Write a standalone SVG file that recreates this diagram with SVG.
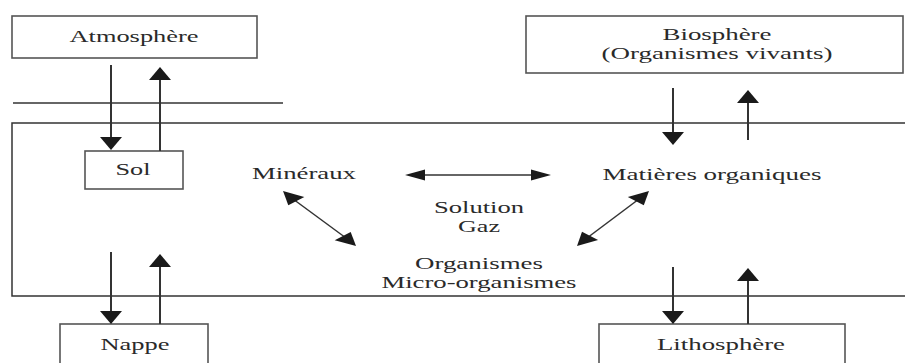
<svg xmlns="http://www.w3.org/2000/svg" width="905" height="363" viewBox="0 0 905 363">
<style>
.box{fill:#fff;stroke:#555;stroke-width:1.6}
.ln{fill:none;stroke:#333;stroke-width:2}
.thin{fill:none;stroke:#333;stroke-width:1.5}
.hd{fill:#1a1a1a;stroke:none}
text{font-family:"Liberation Serif","Times New Roman",serif;font-size:17px;fill:#2a2a2a;text-anchor:middle}
</style>
<rect width="905" height="363" fill="#fff"/>
<g id="frame">
<path class="thin" d="M905,123 H12 V296 H905"/>
<path class="thin" d="M13,103 H283"/>
</g>
<g id="atmosphere"><rect class="box" x="12" y="16" width="245" height="42"/><text x="134" y="42" textLength="129" lengthAdjust="spacingAndGlyphs">Atmosphère</text></g>
<g id="biosphere"><rect class="box" x="526" y="16" width="377" height="57"/><text x="717" y="40" textLength="109" lengthAdjust="spacingAndGlyphs">Biosphère</text><text x="717" y="59" textLength="231" lengthAdjust="spacingAndGlyphs">(Organismes vivants)</text></g>
<g id="sol"><rect class="box" x="85" y="151" width="98" height="38"/><text x="133" y="175" textLength="35" lengthAdjust="spacingAndGlyphs">Sol</text></g>
<g id="nappe"><rect class="box" x="60" y="324" width="148" height="45"/><text x="135" y="350" textLength="69" lengthAdjust="spacingAndGlyphs">Nappe</text></g>
<g id="lithosphere"><rect class="box" x="599" y="324" width="246" height="45"/><text x="721" y="350" textLength="128" lengthAdjust="spacingAndGlyphs">Lithosphère</text></g>
<g id="mineraux"><text x="304" y="179" textLength="104" lengthAdjust="spacingAndGlyphs">Minéraux</text></g>
<g id="matieres"><text x="712" y="180" textLength="219" lengthAdjust="spacingAndGlyphs">Matières organiques</text></g>
<g id="solution"><text x="479" y="213" textLength="90" lengthAdjust="spacingAndGlyphs">Solution</text><text x="479" y="232" textLength="42" lengthAdjust="spacingAndGlyphs">Gaz</text></g>
<g id="organismes"><text x="479" y="269" textLength="128" lengthAdjust="spacingAndGlyphs">Organismes</text><text x="479" y="288" textLength="195" lengthAdjust="spacingAndGlyphs">Micro-organismes</text></g>
<g id="connectors">
<path class="ln" d="M111,65 V140"/><polygon class="hd" points="100,137 122,137 111,150"/>
<path class="ln" d="M160,151 V77"/><polygon class="hd" points="149,80 171,80 160,67"/>
<path class="ln" d="M111,252 V314"/><polygon class="hd" points="100,311 122,311 111,324"/>
<path class="ln" d="M160,324 V264"/><polygon class="hd" points="149,267 171,267 160,254"/>
<path class="ln" d="M673,88 V135"/><polygon class="hd" points="662,132 684,132 673,145"/>
<path class="ln" d="M748,140 V100"/><polygon class="hd" points="737,103 759,103 748,90"/>
<path class="ln" d="M673,267 V314"/><polygon class="hd" points="662,311 684,311 673,324"/>
<path class="ln" d="M748,324 V278"/><polygon class="hd" points="737,281 759,281 748,268"/>
<path class="thin" d="M420,175 H536"/><polygon class="hd" points="405,175 425,169.5 425,180.5"/><polygon class="hd" points="551,175 531,169.5 531,180.5"/>
<path class="thin" d="M293,199 L346,238"/><polygon class="hd" points="283,191 288.3,205.2 304.3,196.9"/><polygon class="hd" points="356,246 334.7,240.2 350.7,231.9"/>
<path class="thin" d="M639,199 L587,238"/><polygon class="hd" points="649,191 627.8,197 643.8,205.2"/><polygon class="hd" points="577,246 582,231.8 598.1,240"/>
</g>
</svg>
